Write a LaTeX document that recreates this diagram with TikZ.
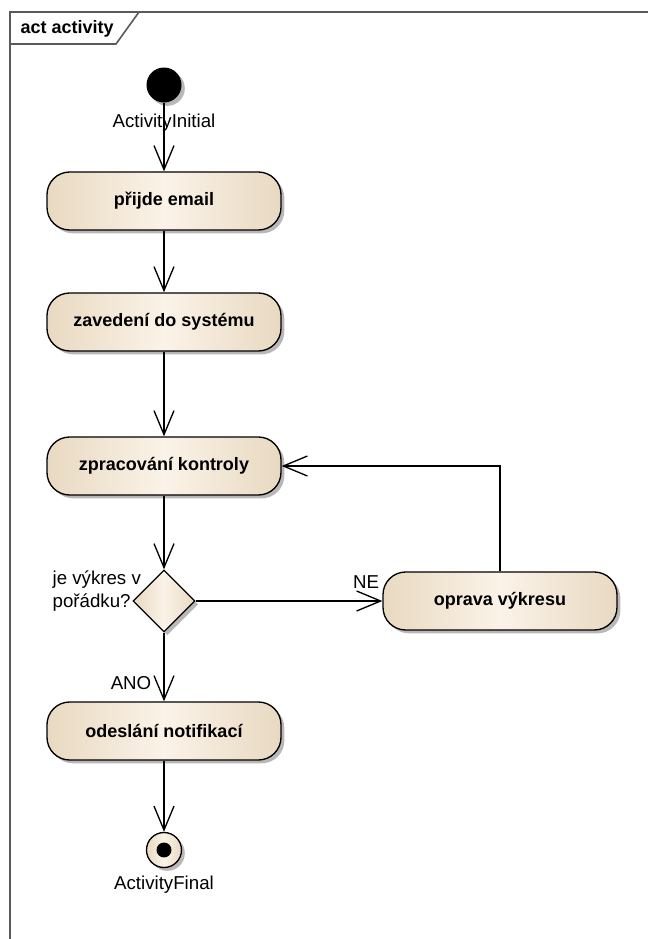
\documentclass[tikz,border=0pt]{standalone}
\usepackage{fontspec}
\setmainfont{Liberation Sans}
\usetikzlibrary{arrows.meta,shapes.geometric,shadows}
\definecolor{tanedge}{RGB}{232,217,193}
\definecolor{tanmid}{RGB}{251,243,232}
\definecolor{framegray}{RGB}{90,90,90}
\begin{document}
\begin{tikzpicture}[
      x=0.75pt, y=-0.75pt,
      font=\fontsize{14}{17}\selectfont,
      >={Straight Barb[length=18pt,width=15pt]},
      umlshadow/.style={drop shadow={shadow xshift=2.5pt,shadow yshift=-2.5pt,fill=black!28,opacity=1}},
      umlfill/.style={left color=tanedge,right color=tanedge,middle color=tanmid},
      actnode/.style={rectangle,rounded corners=17pt,draw,line width=1pt,
        minimum width=175.5pt,minimum height=43.5pt,umlfill,umlshadow,
        font=\fontsize{13.5}{16.5}\selectfont\bfseries},
      decnode/.style={diamond,draw,line width=1pt,inner sep=0pt,
        minimum width=46.5pt,minimum height=46.5pt,umlfill,umlshadow},
      initnode/.style={circle,fill,inner sep=0pt,minimum size=26.25pt,umlshadow},
      finalnode/.style={circle,draw,line width=1pt,inner sep=0pt,
        minimum size=26.25pt,umlfill,umlshadow},
      flow/.style={->,line width=1pt}
    ]
    \useasboundingbox (0,0) rectangle (648,939);
    \draw[framegray,line width=1.2pt] (10,939) -- (10,12) -- (648,12);
    \draw[framegray,line width=1.2pt] (10,44) -- (116,44) -- (139,12);
    \node (frame) [anchor=west,font=\fontsize{13.5}{16.5}\selectfont\bfseries] at (16,29) {act activity};

    \node (init) [initnode] at (164,85) {};
    \node (initlab) at (164,123) {ActivityInitial};
    \node (email) [actnode] at (164,201) {přijde email};
    \node (zaved) [actnode] at (164,322) {zavedení do systému};
    \node (kontr) [actnode] at (164,466) {zpracování kontroly};
    \node (dec) [decnode] at (164,601) {};
    \node (declab) [anchor=west,align=left] at (48,591) {je výkres v\\pořádku?};
    \node (oprava) [actnode] at (500,601) {oprava výkresu};
    \node (notif) [actnode] at (164,731) {odeslání notifikací};
    \node (final) [finalnode] at (164,850) {};
    \fill (final) circle[radius=5.6pt];
    \node (finallab) at (164,885) {ActivityFinal};
    \node (ne) at (366,582) {NE};
    \node (ano) at (131,683) {ANO};

    \draw[flow] (init) -- (email);
    \draw[flow] (email) -- (zaved);
    \draw[flow] (zaved) -- (kontr);
    \draw[flow] (kontr) -- (dec);
    \draw[flow] (dec) -- (oprava);
    \draw[flow] (oprava.north) |- (kontr.east);
    \draw[flow] (dec) -- (notif);
    \draw[flow] (notif) -- (final);
  \end{tikzpicture}
\end{document}
